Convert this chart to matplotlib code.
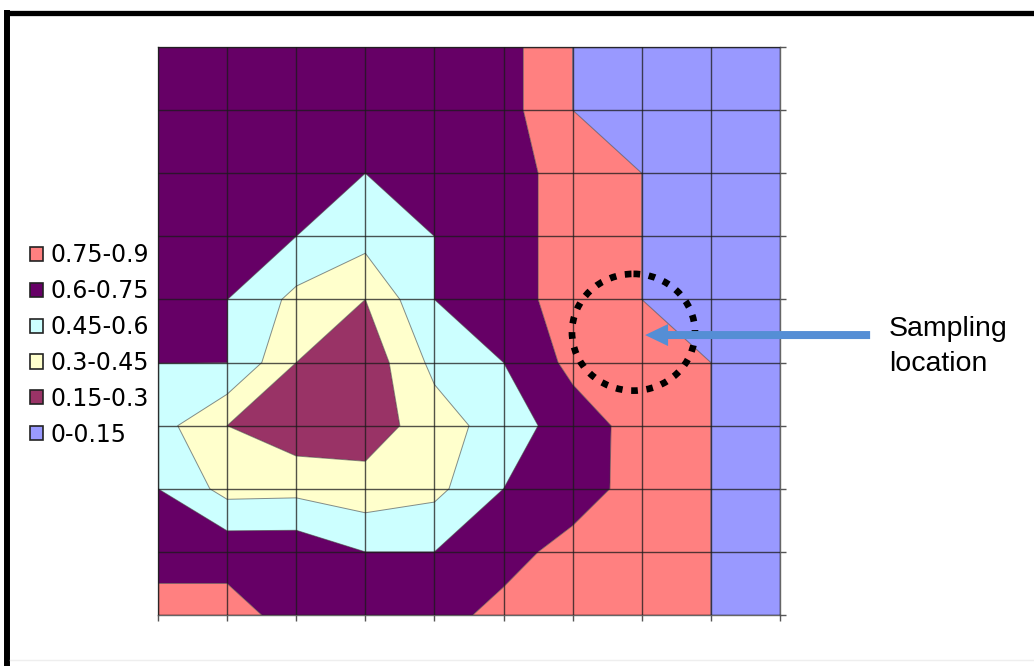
import numpy as np
import matplotlib
matplotlib.use("Agg")
import matplotlib.pyplot as plt
from matplotlib.patches import Patch, Ellipse, FancyArrow
from matplotlib.lines import Line2D

# ---- data: surface values on a 10 x 10 grid (row 0 = top row) ----
row_0 = [0.70, 0.70, 0.70, 0.70, 0.70, 0.69, 0.90, 1.00, 1.00, 1.00]
row_1 = [0.70, 0.70, 0.70, 0.70, 0.70, 0.69, 0.90, 1.00, 1.00, 1.00]
row_2 = [0.70, 0.70, 0.70, 0.60, 0.70, 0.70, 0.80, 0.90, 1.00, 1.00]
row_3 = [0.70, 0.70, 0.60, 0.505, 0.60, 0.70, 0.80, 0.90, 1.00, 1.00]
row_4 = [0.70, 0.601, 0.41, 0.30, 0.60, 0.70, 0.80, 0.90, 1.00, 1.00]
row_5 = [0.601, 0.601, 0.30, 0.20, 0.49, 0.60, 0.79, 0.80, 0.90, 1.00]
row_6 = [0.51, 0.30, 0.20, 0.225, 0.375, 0.525, 0.675, 0.81, 0.90, 1.00]
row_7 = [0.60, 0.40, 0.408, 0.358, 0.41, 0.60, 0.68, 0.81, 0.90, 1.00]
row_8 = [0.70, 0.70, 0.70, 0.60, 0.60, 0.70, 0.80, 0.85, 0.90, 1.00]
row_9 = [0.80, 0.80, 0.70, 0.70, 0.70, 0.79, 0.85, 0.85, 0.90, 1.00]

levels = [0.15, 0.30, 0.45, 0.60, 0.75, 0.90, 1.05]
band_colors = ["#993366", "#FFFFCC", "#CCFFFF", "#660066", "#FF8080", "#9999FF"]

legend_labels = ["0.75-0.9", "0.6-0.75", "0.45-0.6", "0.3-0.45", "0.15-0.3", "0-0.15"]
legend_colors = ["#FF8080", "#660066", "#CCFFFF", "#FFFFCC", "#993366", "#9999FF"]

sampling_label = "Sampling\nlocation"
sampling_point = (6.88, 4.52)   # grid position of the circled sampling location

# ---- figure ----
W, H = 1034, 666
fig = plt.figure(figsize=(W / 100, H / 100), dpi=100)
fig.patch.set_facecolor("white")

x0, x1, y0, y1 = 158, 780, 47, 615
ax = fig.add_axes([x0 / W, 1 - y1 / H, (x1 - x0) / W, (y1 - y0) / H])

Z = np.array([row_0, row_1, row_2, row_3, row_4, row_5, row_6, row_7, row_8, row_9])
nx = Z.shape[1]
ny = Z.shape[0]
X, Y = np.meshgrid(np.arange(nx), np.arange(ny))

ax.contourf(X, Y, Z, levels=levels, colors=band_colors, antialiased=True)
ax.contour(X, Y, Z, levels=levels[1:-1], colors="#404040", linewidths=0.7, alpha=0.6)

ax.set_xlim(0, nx - 1)
ax.set_ylim(ny - 1, 0)
ax.set_xticks(np.arange(nx))
ax.set_yticks(np.arange(ny))
ax.set_xticklabels([])
ax.set_yticklabels([])
ax.yaxis.tick_right()
ax.tick_params(axis="both", direction="out", length=4, width=1, color="#555555")
ax.set_axisbelow(False)
ax.grid(True, color="#1a1a1a", linewidth=1.0, alpha=0.75)
for s in ax.spines.values():
    s.set_color("#333333")
    s.set_linewidth(1.0)
    s.set_alpha(0.75)

# sampling location: dotted circle and arrow
circ = Ellipse(sampling_point, width=1.78, height=1.85, fill=False,
               edgecolor="black", linewidth=4.8, linestyle=(0, (1.0, 1.3)),
               clip_on=False, zorder=10)
ax.add_patch(circ)

tail_x = (870 - x0) / 69.1
tip_x = (645 - x0) / 69.1
arr_y = (335 - y0) / 63.1
arrow = FancyArrow(tail_x, arr_y, tip_x - tail_x, 0,
                   width=8 / 63.1, head_width=22 / 63.1, head_length=23 / 69.1,
                   length_includes_head=True, color="#558ED5", clip_on=False,
                   zorder=11, linewidth=0)
ax.add_patch(arrow)

fig.text(889 / W, 1 - 316 / H, sampling_label, ha="left", va="top",
         fontsize=20.5, family="Liberation Sans", linespacing=1.45)

# legend
handles = [Patch(facecolor=c, edgecolor="#222222", linewidth=1.2) for c in legend_colors]
leg = fig.legend(handles, legend_labels, loc="center left",
                 bbox_to_anchor=(30 / W, 1 - 345 / H),
                 frameon=False, prop={"family": "DejaVu Sans", "size": 17},
                 handlelength=0.55, handleheight=0.55, handletextpad=0.3,
                 labelspacing=0.5, borderaxespad=0, borderpad=0)

# outer black frame (top and left) and faint bottom line
fig.add_artist(Line2D([7 / W, 1], [1 - 12.5 / H, 1 - 12.5 / H], color="black",
                      linewidth=3.8, transform=fig.transFigure, solid_capstyle="butt"))
fig.add_artist(Line2D([7 / W, 7 / W], [0, 1 - 10 / H], color="black",
                      linewidth=4.3, transform=fig.transFigure, solid_capstyle="butt"))
fig.add_artist(Line2D([10 / W, 1], [1 - 660 / H, 1 - 660 / H], color="#eeeeee",
                      linewidth=1, transform=fig.transFigure))

fig.savefig("out.png", dpi=100)
